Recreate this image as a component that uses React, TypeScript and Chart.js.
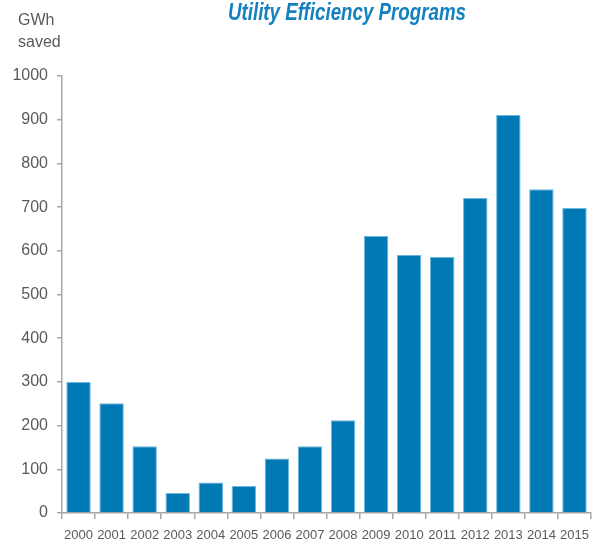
import React, { useEffect, useRef } from "react";
import { Chart, registerables } from "chart.js";

Chart.register(...registerables);

const years = ["2000","2001","2002","2003","2004","2005","2006","2007","2008","2009","2010","2011","2012","2013","2014","2015"];
const gwhSaved = [300, 251, 153, 46, 70, 62, 125, 153, 212, 634, 591, 586, 721, 911, 741, 698];
const yTicks = [0, 100, 200, 300, 400, 500, 600, 700, 800, 900, 1000];
const titleText = "Utility Efficiency Programs";
const unitLines = ["GWh", "saved"];

const GRAY_TEXT = "#5a5a5a";
const AXIS = "#a6a6a6";
const FONT = "'Liberation Sans', 'DejaVu Sans', sans-serif";

const overlay = {
  id: "overlay",
  afterDraw(chart: any) {
    const ctx = chart.ctx;
    ctx.save();
    ctx.font = "italic bold 24px 'Liberation Sans', sans-serif";
    ctx.fillStyle = "#1480c0";
    ctx.textBaseline = "alphabetic";
    ctx.textAlign = "left";
    const w = ctx.measureText(titleText).width;
    const target = 238;
    ctx.translate(228, 20);
    ctx.scale(target / w, 1);
    ctx.fillText(titleText, 0, 0);
    ctx.restore();
    ctx.save();
    ctx.font = "16px 'Liberation Sans', sans-serif";
    ctx.fillStyle = GRAY_TEXT;
    ctx.textAlign = "left";
    ctx.textBaseline = "alphabetic";
    ctx.fillText(unitLines[0], 18, 25);
    ctx.fillText(unitLines[1], 18, 47);
    ctx.restore();
  },
};

export default function App() {
  const ref = useRef<HTMLCanvasElement | null>(null);
  useEffect(() => {
    if (!ref.current) return;
    const chart = new Chart(ref.current, {
      type: "bar",
      data: {
        labels: years,
        datasets: [
          {
            data: gwhSaved,
            backgroundColor: "#0079b4",
            borderColor: "#6fb8de",
            borderWidth: 1,
            borderSkipped: "bottom",
            categoryPercentage: 1,
            barPercentage: 0.74,
          },
        ],
      },
      options: {
        responsive: false,
        animation: false,
        layout: { padding: { top: 76, right: 10, left: 0, bottom: 0 } },
        plugins: { legend: { display: false }, tooltip: { enabled: false }, title: { display: false } },
        scales: {
          x: {
            grid: { display: true, drawOnChartArea: false, offset: true, tickLength: 6, color: AXIS, lineWidth: 1.5 },
            border: { display: true, color: AXIS, width: 1.5 },
            ticks: { color: GRAY_TEXT, font: { family: FONT, size: 13 }, padding: 9, maxRotation: 0, autoSkip: false },
            afterFit(scale: any) { scale.height = 32; },
          },
          y: {
            min: 0,
            max: 1000,
            afterBuildTicks(scale: any) { scale.ticks = yTicks.map((v) => ({ value: v })); },
            grid: { display: true, drawOnChartArea: false, tickLength: 5, color: AXIS, lineWidth: 1.5 },
            border: { display: true, color: AXIS, width: 1.5 },
            ticks: { color: GRAY_TEXT, font: { family: FONT, size: 16 }, padding: 9, callback: (v: any) => String(v) },
            afterFit(scale: any) { scale.width = 62; },
          },
        },
      },
      plugins: [overlay],
    });
    return () => chart.destroy();
  }, []);
  return (
    <div style={{ position: "fixed", left: 0, top: 0, width: 601, height: 545, background: "#fff" }}>
      <canvas ref={ref} width={601} height={545} style={{ width: 601, height: 545 }} />
    </div>
  );
}
